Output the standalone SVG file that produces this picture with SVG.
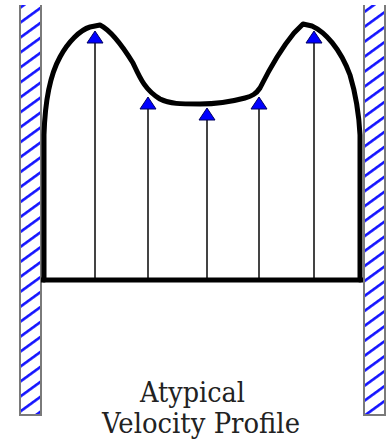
<svg xmlns="http://www.w3.org/2000/svg" width="387" height="446" viewBox="0 0 387 446">
<style>
.wallEdge{stroke:#7a7a7a;stroke-width:2;fill:none}
.arrow{stroke:#444;stroke-width:2;fill:none}
.head{fill:#0000ff;stroke:#000060;stroke-width:1}
.profile{stroke:#000;stroke-width:5;fill:none;stroke-linejoin:round;stroke-linecap:round}
.label{font-size:27px;fill:#222}
</style>
<defs>
<pattern id="hatch" patternUnits="userSpaceOnUse" width="10" height="12.1" patternTransform="rotate(-36)">
<rect width="10" height="12.1" fill="#fff"/>
<line x1="0" y1="6" x2="10" y2="6" stroke="#1010ff" stroke-width="2.6"/>
</pattern>
</defs>
<rect width="387" height="446" fill="#fff"/>
<g id="leftWall">
<rect x="20" y="5" width="21" height="410" fill="url(#hatch)"/>
<path class="wallEdge" d="M20,5 V415 H41 V5"/>
</g>
<g id="rightWall">
<rect x="364" y="5" width="21" height="410" fill="url(#hatch)"/>
<path class="wallEdge" d="M364,5 V415 H385 V5"/>
</g>
<g id="connectors">
<line class="arrow" x1="95" y1="279" x2="95" y2="42"/>
<line class="arrow" x1="148" y1="279" x2="148" y2="108"/>
<line class="arrow" x1="207" y1="279" x2="207" y2="119"/>
<line class="arrow" x1="259" y1="279" x2="259" y2="108"/>
<line class="arrow" x1="314" y1="279" x2="314" y2="42"/>
<polygon class="head" points="95,31 87,43 103,43"/>
<polygon class="head" points="148,97 140,109 156,109"/>
<polygon class="head" points="207,108 199,120 215,120"/>
<polygon class="head" points="259,97 251,109 267,109"/>
<polygon class="head" points="314,31 306,43 322,43"/>
</g>
<g id="profile">
<path class="profile" d="M44,280 L44,135 C45,100 50,75 60,57 C68,42 80,30 90,27 L100,25 C110,30 120,42 133,63 C140,78 145,90 160,99 C170,104 180,104 200,104 C215,104 230,102 245,98 C252,96 256,94 260,88 C268,72 280,50 294,33 L303,24 L312,26 C325,32 340,48 350,75 C356,95 359,115 360,135 L360,280"/>
<line x1="41" y1="280" x2="363" y2="280" stroke="#000" stroke-width="5"/>
</g>
<g id="caption" font-family="'DejaVu Serif', 'Liberation Serif', serif">
<text class="label" x="140" y="402" textLength="105" lengthAdjust="spacingAndGlyphs">Atypical</text>
<text class="label" x="102" y="433" textLength="198" lengthAdjust="spacingAndGlyphs">Velocity Profile</text>
</g>
</svg>
